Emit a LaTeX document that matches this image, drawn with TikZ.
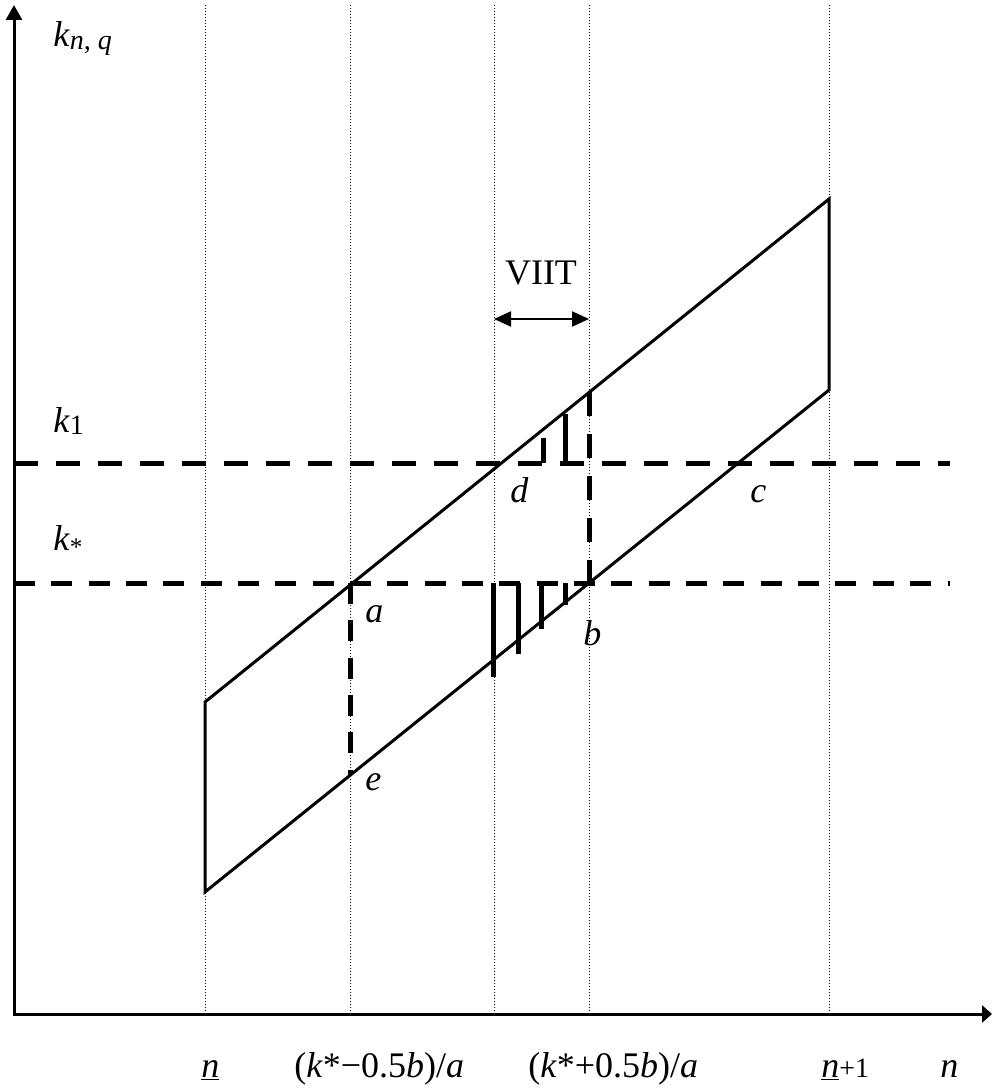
\documentclass[tikz,border=0pt]{standalone}
\usepackage{fontspec}
\setmainfont{Liberation Serif}
\usetikzlibrary{arrows.meta, positioning, calc}

\begin{document}
\begin{tikzpicture}[x=0.5pt, y=-0.5pt,
    guide/.style={line width=0.5pt, dash pattern=on 0.5pt off 1pt},
    side/.style={line width=1.5pt},
    klevel/.style={line width=2.5pt, dash pattern=on 12pt off 9pt},
    kstar/.style={line width=2.5pt, dash pattern=on 10.5pt off 8.17pt},
    stepbar/.style={line width=2.5pt},
    lbl/.style={font=\fontsize{18}{22}\selectfont, inner sep=0pt, anchor=base west}]
    \useasboundingbox (0,0) rectangle (992,1090);

    % axes
    \coordinate (O) at (14,1014);
    \coordinate (ytop) at (14,5);
    \coordinate (xend) at (992,1014);

    % corners of the band
    \coordinate (tl) at (205,702);
    \coordinate (tr) at (829,199);
    \coordinate (br) at (829,390);
    \coordinate (bl) at (205,892);

    % points on the levels
    \coordinate (a) at (350,583);
    \coordinate (e) at (350,775);
    \coordinate (b) at (589,583);
    \coordinate (bt) at (589,392);

    % dotted guides
    \foreach \x in {205,350,494,589,829}
        \draw[guide] (\x,5) -- (\x,1014);

    % band
    \draw[side] (tl) -- (tr) -- (br) -- (bl) -- cycle;

    % levels k1 and k*
    \draw[klevel] (14,463) -- (950,463);
    \draw[kstar] (14,583) -- (950,583);
    \draw[klevel] (bt) -- (b);
    \draw[kstar] (a) -- (e);

    % steps
    \foreach \x/\y in {493/677, 518/654, 541/629, 565/605}
        \draw[stepbar] (\x,583) -- (\x,\y);
    \foreach \x/\y in {543/438, 565/414}
        \draw[stepbar] (\x,463) -- (\x,\y);

    % VIIT span
    \coordinate (vl) at (494,319);
    \coordinate (vr) at (589,319);
    \draw[line width=1pt, {Triangle[length=8.5pt, width=7.5pt]}-{Triangle[length=8.5pt, width=7.5pt]}] (vl) -- (vr);
    \node[lbl, anchor=base] (viit) at (541,285) {VIIT};

    \draw[line width=1.5pt, {Triangle[length=7.5pt, width=8pt]}-{Triangle[length=5pt, width=8.5pt]}] (ytop) -- (O) -- (xend);

    % labels
    \node[lbl] (kq) at (53,47) {\textit{k}\raisebox{-1.5pt}{\fontsize{14}{16}\selectfont\textit{n, q}}};
    \node[lbl] (k1) at (53,432) {\textit{k}\raisebox{-1pt}{\fontsize{14}{16}\selectfont 1}};
    \node[lbl] (ks) at (53,550) {\textit{k}\textsubscript{*}};
    \node[lbl] (ld) at (510,502) {\textit{d}};
    \node[lbl] (lc) at (750,502) {\textit{c}};
    \node[lbl] (la) at (365,622) {\textit{a}};
    \node[lbl] (le) at (365,790) {\textit{e}};
    \node[lbl] (lb) at (583,645) {\textit{b}};

    \node[lbl] (n0) at (201,1077) {\underline{\textit{n}}};
    \node[lbl] (lo) at (294,1077) {(\textit{k}*−0.5\textit{b})/\textit{a}};
    \node[lbl] (hi) at (528,1077) {(\textit{k}*+0.5\textit{b})/\textit{a}};
    \node[lbl] (n1) at (821,1077) {\underline{\textit{n}}{\fontsize{14}{16}\selectfont +1}};
    \node[lbl] (nn) at (940,1077) {\textit{n}};
\end{tikzpicture}
\end{document}
